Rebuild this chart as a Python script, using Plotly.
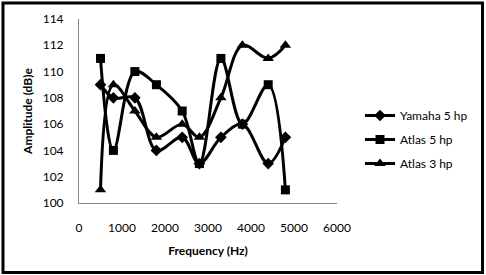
import plotly.graph_objects as go

freq = [500, 800, 1300, 1800, 2400, 2800, 3300, 3800, 4400, 4800]
yamaha_5hp = [109, 108, 108, 104, 105, 103, 105, 106, 103, 105]
atlas_5hp = [111, 104, 110, 109, 107, 103, 111, 106, 109, 101]
atlas_3hp = [101, 109, 107, 105, 106, 105, 108, 112, 111, 112]
series = [("Yamaha 5 hp", yamaha_5hp, "diamond", 9),
          ("Atlas 5 hp", atlas_5hp, "square", 9),
          ("Atlas 3 hp", atlas_3hp, "triangle-up", 10)]

FONT = "Lato"
fig = go.Figure()
for i, (name, vals, sym, sz) in enumerate(series):
    fig.add_trace(go.Scatter(
        x=freq, y=vals, name=name, mode="lines+markers",
        line=dict(color="black", width=3, shape="spline", smoothing=1),
        marker=dict(symbol=sym, size=sz, color="black"),
        legendgroup=f"g{i}",
    ))

W, H = 486, 275
L, R, T, B = 79, 337, 19, 203
pw, ph = R - L, B - T
def px(x): return (x - L) / pw
def py(y): return (B - y) / ph

fig.update_layout(
    width=W, height=H,
    margin=dict(l=L, r=W - R, t=T, b=H - B, autoexpand=False),
    paper_bgcolor="white", plot_bgcolor="white",
    font=dict(family=FONT, size=12, color="black"),
    showlegend=True,
    legend=dict(x=px(360), y=py(101), xanchor="left", yanchor="top",
                bgcolor="rgba(0,0,0,0)", font=dict(size=12), tracegroupgap=5),
    xaxis=dict(range=[0, 6000], dtick=1000, showgrid=False, zeroline=False,
               showline=True, linecolor="#888888", linewidth=1, automargin=False,
               ticks="", ticklabelstandoff=14,
               title=dict(text="<b>Frequency (Hz)</b>", font=dict(size=12), standoff=12)),
    yaxis=dict(range=[100, 114], dtick=2, showgrid=False, zeroline=False,
               showline=True, linecolor="#888888", linewidth=1, automargin=False,
               ticks="", ticklabelstandoff=12,
               title=dict(text="<b>Amplitude (dB)e</b>", font=dict(size=12), standoff=7)),
    shapes=[dict(type="rect", xref="paper", yref="paper",
                 x0=px(3), x1=px(482.5), y0=py(272.5), y1=py(3),
                 line=dict(color="black", width=3), fillcolor="rgba(0,0,0,0)")],
)
fig.write_html("out.html", config={"displayModeBar": False},
               post_script="document.body.style.margin='0';")
